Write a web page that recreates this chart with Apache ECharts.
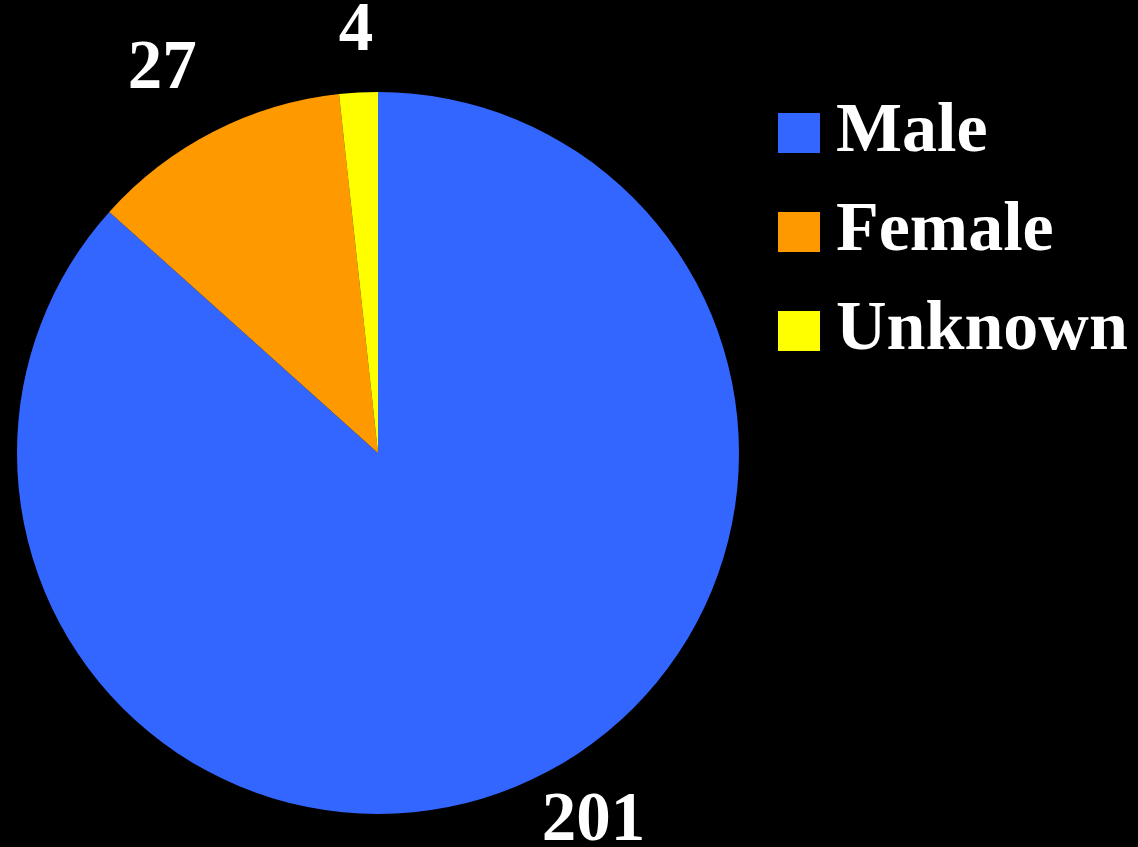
<!DOCTYPE html>
<html>
<head>
<meta charset="utf-8">
<style>
  html, body { margin: 0; padding: 0; background: #000; }
  #chart { width: 1138px; height: 847px; }
</style>
<script src="https://cdn.jsdelivr.net/npm/echarts@6/dist/echarts.min.js"></script>
</head>
<body>
<div id="chart"></div>
<script>
var categories = ['Male', 'Female', 'Unknown'];
var counts = [201, 27, 4];
var colors = ['#3366ff', '#ff9900', '#ffff00'];

// label nudges so the numbers sit where the original put them
var labelLen = [43, 69, 60];
var labelShift = [-1, -15, -18];

var font = '"Liberation Serif", "Times New Roman", serif';

var myChart = echarts.init(document.getElementById('chart'));

var pieData = [];
for (var i = 0; i < categories.length; i++) {
    pieData.push({
        name: categories[i],
        value: counts[i],
        itemStyle: { color: colors[i] },
        label: { distanceToLabelLine: labelShift[i] },
        labelLine: { length: labelLen[i], length2: 0 }
    });
}

var option = {
    backgroundColor: '#000',
    animation: false,
    legend: {
        orient: 'vertical',
        left: 778,
        top: 98,
        padding: 0,
        itemWidth: 42,
        itemHeight: 40,
        itemGap: 29,
        icon: 'rect',
        data: categories,
        textStyle: {
            color: '#fff',
            fontFamily: font,
            fontWeight: 'bold',
            fontSize: 70,
            padding: [0, 0, 0, 11]
        }
    },
    series: [{
        type: 'pie',
        center: [378, 453],
        radius: 361,
        startAngle: 90,
        clockwise: true,
        avoidLabelOverlap: false,
        itemStyle: { borderWidth: 0 },
        label: {
            show: true,
            position: 'outside',
            formatter: '{c}',
            color: '#fff',
            fontFamily: font,
            fontWeight: 'bold',
            fontSize: 69
        },
        labelLine: { show: false },
        emphasis: { disabled: true },
        data: pieData
    }]
};
myChart.setOption(option);
</script>
</body>
</html>
